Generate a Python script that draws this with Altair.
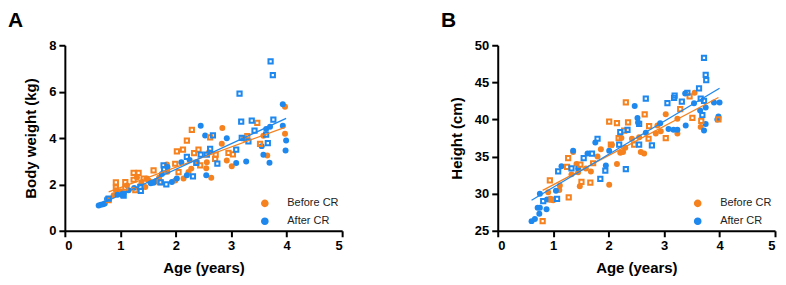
import altair as alt
import pandas as pd

ORANGE = "#F5821F"
BLUE = "#1E88EE"
FONT = "Liberation Sans"

# ---------------- Panel A: body weight ----------------
a_before_circ_age = [0.88, 0.92, 1.00, 1.12, 1.30, 1.38, 1.45, 1.48, 1.51, 1.55, 1.70, 1.84, 1.85, 1.99, 2.14, 2.23, 2.28,
                     2.38, 2.56, 2.55, 2.60, 2.64, 2.83, 2.84, 2.92, 3.01, 3.25, 3.58, 3.65, 3.97, 3.97]
a_before_circ_wt = [1.53, 1.75, 1.70, 1.95, 2.30, 2.05, 1.89, 2.25, 2.17, 2.10, 2.30, 2.86, 2.55, 2.17, 2.25, 2.53, 2.68,
                    2.96, 2.96, 2.70, 3.39, 2.29, 3.75, 4.43, 3.03, 2.78, 3.96, 4.10, 3.25, 5.35, 4.18]
a_before_sq_age = [0.79, 0.92, 0.92, 1.09, 1.09, 1.24, 1.24, 1.27, 1.33, 1.42, 1.60, 1.71, 1.99, 2.02, 2.05, 2.13, 2.20,
                   2.29, 2.33, 2.41, 2.44, 2.62, 2.71, 2.72, 2.95, 3.03, 3.23, 3.29, 3.47, 3.52]
a_before_sq_wt = [1.32, 2.09, 1.86, 2.10, 1.86, 2.50, 2.20, 1.75, 2.50, 2.25, 2.60, 2.10, 2.89, 3.42, 2.53, 3.50, 3.89,
                  4.35, 3.35, 3.50, 2.82, 4.03, 3.10, 3.28, 3.36, 3.29, 3.99, 4.08, 4.65, 3.75]
a_after_circ_age = [0.61, 0.65, 0.69, 0.72, 0.76, 0.95, 1.06, 1.15, 1.25, 1.55, 1.60, 1.65, 1.75, 1.85, 1.93, 2.02, 2.10,
                    2.20, 2.25, 2.45, 2.53, 2.55, 2.92, 3.09, 3.27, 3.55, 3.58, 3.63, 3.69, 3.70, 3.93, 3.93, 3.98, 3.99]
a_after_circ_wt = [1.09, 1.12, 1.14, 1.18, 1.37, 1.55, 1.62, 1.75, 1.85, 2.05, 2.07, 2.15, 2.45, 2.75, 2.10, 2.25, 2.95,
                   2.39, 3.05, 4.53, 4.11, 2.39, 3.99, 2.92, 2.99, 3.65, 3.28, 4.39, 2.93, 4.49, 4.53, 5.46, 3.46, 3.89]
a_after_sq_age = [0.79, 1.05, 1.06, 1.37, 1.36, 1.73, 1.78, 1.79, 1.83, 2.20, 2.31, 2.37, 2.45, 2.56, 2.62, 2.67, 2.75,
                  3.09, 3.15, 3.18, 3.19, 3.31, 3.37, 3.42, 3.63, 3.66, 3.71, 3.75, 3.76]
a_after_sq_wt = [1.39, 1.56, 1.52, 1.72, 1.89, 2.09, 2.82, 2.66, 2.00, 3.19, 2.35, 2.93, 3.28, 3.28, 3.53, 4.11, 2.90,
                 3.50, 5.91, 4.71, 4.01, 3.85, 4.75, 4.32, 4.15, 3.78, 7.30, 6.71, 4.79]

# ---------------- Panel B: height ----------------
b_before_circ_age = [0.91, 0.95, 1.00, 1.12, 1.11, 1.33, 1.36, 1.42, 1.45, 1.48, 1.59, 1.68, 1.80, 1.86, 2.01, 2.06,
                     2.15, 2.21, 2.26, 2.30, 2.23, 2.42, 2.55, 2.58, 2.64, 2.85, 2.88, 2.94, 3.03, 3.24, 3.24, 3.55,
                     3.66, 3.98]
b_before_circ_h = [30.2, 29.3, 29.1, 31.1, 30.5, 32.6, 35.6, 34.0, 32.9, 31.0, 33.4, 33.0, 35.0, 36.0, 31.2, 36.6,
                   34.0, 35.5, 35.6, 36.2, 37.5, 37.4, 37.6, 35.6, 35.4, 38.1, 39.2, 38.4, 40.7, 38.1, 40.1, 43.6,
                   39.0, 40.1]
b_before_sq_age = [0.81, 0.94, 0.97, 1.28, 1.27, 1.25, 1.49, 1.51, 1.67, 1.72, 2.01, 2.15, 2.31, 2.35, 2.04, 2.18,
                   2.28, 2.46, 2.65, 2.73, 2.72, 3.03, 3.29, 3.46, 3.51, 3.67, 3.98]
b_before_sq_h = [26.3, 31.8, 29.2, 29.5, 34.8, 33.6, 33.9, 31.6, 31.5, 34.1, 39.7, 39.5, 42.3, 39.6, 36.6, 37.5,
                 38.5, 36.6, 40.7, 39.1, 37.4, 37.5, 41.4, 43.1, 40.2, 39.8, 40.0]
b_after_circ_age = [0.61, 0.67, 0.72, 0.76, 0.75, 0.76, 0.88, 0.89, 1.05, 1.15, 1.36, 1.45, 1.62, 1.76, 1.95, 2.01,
                    2.47, 2.52, 2.53, 2.67, 2.93, 3.08, 3.17, 3.24, 3.39, 3.38, 3.54, 3.72, 3.75, 3.75, 3.65, 3.90,
                    3.96, 4.00, 3.98]
b_after_circ_h = [26.3, 26.6, 28.1, 28.1, 27.3, 30.0, 27.9, 29.2, 30.4, 33.7, 35.8, 33.4, 35.4, 36.9, 33.8, 35.8,
                  41.8, 40.2, 39.6, 38.2, 39.5, 38.7, 38.6, 38.6, 39.2, 43.5, 42.2, 38.5, 39.4, 41.6, 41.2, 42.3,
                  40.0, 42.3, 40.4]
b_after_sq_age = [0.82, 1.07, 1.09, 1.33, 1.55, 1.70, 1.80, 1.85, 1.94, 2.21, 2.19, 2.31, 2.34, 2.55, 2.55, 2.67,
                  2.78, 3.06, 3.18, 3.19, 3.32, 3.42, 3.63, 3.66, 3.69, 3.72, 3.75, 3.76, 3.72]
b_after_sq_h = [29.0, 29.3, 33.0, 33.4, 34.8, 35.4, 37.4, 32.0, 33.1, 38.3, 36.6, 33.3, 38.6, 36.6, 39.4, 42.8,
                36.5, 42.2, 42.9, 43.2, 42.4, 43.6, 44.2, 42.8, 40.6, 48.3, 46.0, 45.3, 42.5]

groups = ["Before CR", "After CR"]
x_ticks = [0, 1, 2, 3, 4, 5]
a_y_ticks = [0, 2, 4, 6, 8]
b_y_ticks = [25, 30, 35, 40, 45, 50]


def frame(bc_age, bc_v, bs_age, bs_v, ac_age, ac_v, as_age, as_v):
    rows = []
    for a, v in zip(bc_age, bc_v):
        rows.append({"age": a, "v": v, "group": "Before CR", "shape": "circle"})
    for a, v in zip(bs_age, bs_v):
        rows.append({"age": a, "v": v, "group": "Before CR", "shape": "square"})
    for a, v in zip(ac_age, ac_v):
        rows.append({"age": a, "v": v, "group": "After CR", "shape": "circle"})
    for a, v in zip(as_age, as_v):
        rows.append({"age": a, "v": v, "group": "After CR", "shape": "square"})
    return pd.DataFrame(rows)


dfA = frame(a_before_circ_age, a_before_circ_wt, a_before_sq_age, a_before_sq_wt,
            a_after_circ_age, a_after_circ_wt, a_after_sq_age, a_after_sq_wt)
dfB = frame(b_before_circ_age, b_before_circ_h, b_before_sq_age, b_before_sq_h,
            b_after_circ_age, b_after_circ_h, b_after_sq_age, b_after_sq_h)


def panel(df, letter, ytitle, yticks):
    xenc = alt.X("age:Q", title="Age (years)",
                 scale=alt.Scale(domain=[x_ticks[0], x_ticks[-1]], nice=False),
                 axis=alt.Axis(values=x_ticks, format="d", labelOverlap=False))
    yenc = alt.Y("v:Q", title=ytitle,
                 scale=alt.Scale(domain=[yticks[0], yticks[-1]], nice=False, zero=False),
                 axis=alt.Axis(values=yticks, format="d", labelOverlap=False))
    cscale = alt.Scale(domain=groups, range=[ORANGE, BLUE])
    leg = alt.Legend(title=None, orient="bottom-right", offset=3, symbolType="circle",
                     symbolSize=38, labelFontSize=11, labelFont=FONT, labelColor="#222",
                     labelOffset=17, rowPadding=5)
    base = alt.Chart(df)
    circles = base.transform_filter(alt.datum.shape == "circle").mark_circle(
        size=36, opacity=1
    ).encode(
        x=xenc, y=yenc,
        color=alt.Color("group:N", scale=cscale, legend=leg),
    )
    squares = base.transform_filter(alt.datum.shape == "square").mark_point(
        shape="square", filled=False, size=18, strokeWidth=2, opacity=1
    ).encode(
        x=xenc, y=yenc,
        stroke=alt.Stroke("group:N", scale=cscale, legend=None),
    )
    lines = base.transform_regression("age", "v", groupby=["group"]).mark_line(strokeWidth=1.3).encode(
        x=xenc, y=yenc,
        stroke=alt.Stroke("group:N", scale=cscale, legend=None),
    )
    return alt.layer(circles, squares, lines).properties(
        width=278, height=186,
        title=alt.TitleParams(letter, anchor="start", frame="group", dx=-57, offset=8,
                              fontSize=21, font=FONT, fontWeight="bold"),
    )


pA = panel(dfA, "A", "Body weight (kg)", a_y_ticks)
pB = panel(dfB, "B", "Height (cm)", b_y_ticks)

chart = alt.hconcat(pA, pB, spacing=98).resolve_scale(
    color="independent", stroke="independent"
).properties(
    padding={"left": 0, "top": 2, "right": 2, "bottom": 2}
).configure_view(stroke=None).configure_axis(
    domainColor="black", domainWidth=2, tickColor="black", tickWidth=2, tickSize=6,
    labelFont=FONT, labelFontSize=13, labelFontWeight="bold", labelColor="black", labelPadding=3,
    titleFont=FONT, titleFontSize=15, titleFontWeight="bold", titleColor="black",
    grid=False,
).configure_axisY(titlePadding=10).configure_axisX(titlePadding=8)

chart.save("out.html", embed_options={"renderer": "svg", "actions": False})
